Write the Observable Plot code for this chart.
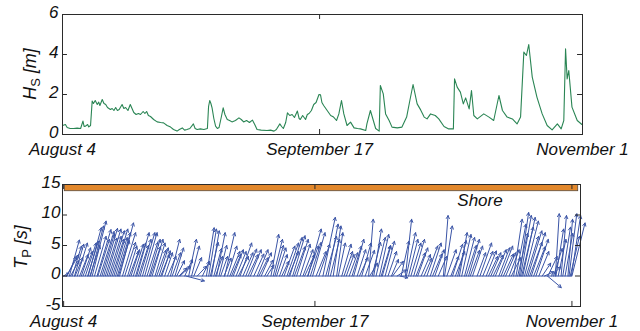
<!DOCTYPE html>
<html>
<head>
<meta charset="utf-8">
<script src="https://cdn.jsdelivr.net/npm/d3@7"></script>
<script src="https://cdn.jsdelivr.net/npm/@observablehq/plot@0.6"></script>
<style>
  body { margin: 0; background: #fff; }
  #chart { position: relative; width: 640px; height: 331px; background: #fff; }
  #hs, #tp { position: absolute; left: 0; }
  #hs { top: 0; }
  #tp { top: 170px; }
</style>
</head>
<body>
<div id="chart"><div id="hs"></div><div id="tp"></div></div>
<script>
// Time axis: days since August 4
const tickDays = [0, 44, 89];
const tickLabels = ["August 4", "September 17", "November 1"];

// Significant wave height H_S [m]
const hsDay = [0, 0.5, 0.8, 1.3, 1.9, 2.5, 3.1, 3.5, 3.7, 3.95, 4.3, 4.5, 4.8, 5.08, 5.3, 5.6, 5.95, 6.2, 6.4, 6.8,
  7.1, 7.4, 7.7, 8.2, 8.5, 8.8, 9.1, 9.4, 9.7, 10.2, 10.5, 10.8, 11.2, 11.6, 11.9, 12.2, 12.6, 13.0, 13.35, 13.8,
  14.1, 14.4, 14.7, 15.06, 15.6, 16.2, 16.8, 17.3, 17.9, 18.5, 19.0, 19.6, 20.0, 20.5, 20.9, 21.3, 21.8, 22.4, 22.7, 23.05,
  23.6, 24.2, 24.8, 25.0, 25.2, 25.4, 25.6, 25.9, 26.2, 26.5, 26.8, 27.2, 27.5, 27.8, 28.2, 28.6, 29.0, 29.6, 30.2, 30.6,
  31.0, 31.5, 32.0, 32.5, 32.9, 33.3, 34.0, 35.0, 35.6, 36.2, 36.6, 37.2, 37.5, 37.8, 38.2, 38.5, 38.9, 39.3, 39.7, 40.2,
  40.5, 40.7, 41.1, 41.6, 41.9, 42.2, 42.6, 43.0, 43.4, 43.9, 44.16, 44.4, 44.7, 45.3, 45.9, 46.4, 46.9, 47.3, 47.75, 48.15,
  48.7, 49.3, 49.9, 50.5, 51.0, 51.9, 52.1, 52.7, 53.2, 53.6, 54.2, 54.4, 54.9, 55.3, 55.9, 56.4, 57.3, 58.1, 58.9, 59.45,
  60.0, 60.7, 61.3, 61.9, 62.4, 63.0, 63.8, 64.4, 65.3, 66.1, 66.9, 67.1, 67.55, 68.1, 68.6, 69.0, 69.6, 70.0, 70.4, 71.0,
  72.1, 73.0, 73.8, 74.7, 75.3, 76.1, 77.0, 77.8, 78.4, 78.96, 79.4, 79.8, 80.4, 81.2, 82.1, 82.95, 83.8, 84.7, 85.35, 85.8,
  86.1, 86.37, 86.65, 87.2, 88.1, 88.9];
const hsValue = [0.45, 0.5, 0.35, 0.3, 0.3, 0.32, 0.3, 0.67, 0.4, 0.42, 0.5, 0.38, 0.45, 1.67, 1.55, 1.7, 1.5, 1.62, 1.45, 1.75,
  1.55, 1.5, 1.35, 1.25, 1.3, 1.2, 1.35, 1.2, 1.25, 1.5, 1.3, 1.35, 1.2, 1.5, 1.3, 1.1, 1.0, 1.05, 1.0, 1.15,
  1.05, 1.15, 0.95, 0.9, 0.75, 0.63, 0.6, 0.58, 0.45, 0.37, 0.25, 0.17, 0.25, 0.33, 0.22, 0.25, 0.3, 0.53, 0.3, 0.25,
  0.28, 0.25, 0.3, 1.4, 1.7, 1.55, 1.33, 0.8, 0.42, 0.3, 0.35, 0.9, 1.33, 1.0, 0.75, 0.7, 0.63, 0.7, 0.83, 0.75,
  0.63, 0.7, 0.6, 0.72, 0.5, 0.25, 0.22, 0.2, 0.22, 0.17, 0.25, 0.53, 0.4, 0.3, 0.6, 1.08, 0.95, 1.0, 0.85, 1.17,
  0.8, 0.75, 0.95, 0.75, 1.0, 1.05, 1.2, 1.5, 1.6, 2.0, 1.98, 1.6, 1.45, 1.2, 0.95, 0.87, 0.7, 1.03, 1.7, 1.03,
  0.45, 0.62, 0.33, 0.3, 0.28, 0.2, 0.53, 1.2, 0.7, 0.3, 0.17, 2.45, 2.03, 1.03, 0.7, 0.37, 0.33, 0.37, 0.87, 1.7,
  2.5, 1.53, 1.23, 0.87, 0.78, 1.03, 0.95, 0.78, 0.4, 0.28, 0.28, 2.78, 2.37, 2.12, 1.53, 1.83, 1.28, 2.2, 0.95, 0.78,
  1.03, 0.87, 0.7, 1.95, 1.2, 0.87, 0.78, 0.53, 0.87, 4.12, 3.95, 4.5, 2.87, 1.87, 1.03, 0.45, 0.23, 0.53, 0.28, 0.7,
  4.28, 2.78, 3.2, 1.37, 0.7, 0.5];

// Peak period vectors: start day, along-shore component (days), cross-shore component T_P [s]
const tpDay = [0.0, 0.5, 0.6, 1.0, 1.5, 1.9, 2.4, 3.1, 3.8, 4.2, 4.3, 4.7, 5.0, 5.85, 6.4, 7.0, 7.6, 8.2, 8.8, 9.4,
  9.8, 10.3, 11.2, 11.8, 12.2, 12.6, 12.8, 13.4, 13.8, 14.2, 15.0, 15.5, 16.0, 16.7, 17.2, 17.7, 18.7, 19.5, 20.2, 20.4,
  21.2, 21.4, 21.9, 22.4, 23.4, 24.3, 25.0, 25.4, 25.9, 26.6, 26.8, 27.5, 28.1, 28.2, 28.7, 29.1, 29.7, 30.2, 30.9, 31.9,
  32.7, 33.9, 34.6, 35.6, 36.3, 36.7, 37.3, 38.2, 38.6, 39.1, 39.6, 40.1, 40.8, 41.9, 42.7, 42.8, 43.6, 44.7, 45.4, 46.3,
  47.2, 47.8, 48.1, 48.7, 49.5, 50.0, 50.5, 50.8, 51.4, 52.2, 53.4, 53.6, 54.3, 54.7, 55.3, 55.8, 56.3, 57.4, 57.6, 58.4,
  58.9, 59.1, 59.85, 60.0, 60.8, 61.3, 62.0, 63.1, 63.6, 64.2, 65.0, 66.5, 66.7, 67.1, 67.8, 68.1, 69.3, 69.7, 70.2, 70.9,
  71.6, 72.4, 72.9, 74.0, 74.8, 75.6, 76.2, 76.6, 77.4, 78.0, 78.8, 79.2, 79.8, 80.0, 80.4, 80.7, 81.3, 81.9, 82.7, 83.8,
  84.2, 84.7, 84.8, 86.1, 86.2, 87.1, 87.4, 88.3, 88.5, 88.9, 89.0,
  1.2, 2.0, 2.8, 3.4, 4.6, 5.4, 6.0, 6.7, 7.3, 7.9, 8.5, 9.1, 9.6, 10.7, 11.5, 13.1, 14.6, 15.2, 16.3, 17.0,
  18.2, 19.0, 19.8, 22.8, 25.7, 26.3, 27.2, 29.4, 30.6, 31.4, 32.3, 33.3, 34.2, 35.2, 37.0, 37.8, 39.4, 40.4, 41.4, 42.2,
  43.2, 44.2, 45.9, 46.7, 49.1, 51.8, 52.8, 54.0, 55.6, 56.8, 60.4, 61.7, 62.6, 64.6, 65.6, 68.6, 69.0, 70.5, 71.2, 73.4,
  74.4, 75.2, 77.0, 78.4, 79.5, 80.2, 81.0, 81.6, 82.3, 83.2, 85.4, 85.8, 86.6, 87.8, 88.7];
const tpU = [0.6, 1.6, 1.2, 1.3, 1.2, 1.2, 1.3, 1.2, 1.4, 1.4, 1.7, 1.7, 1.8, 1.8, 1.8, 1.8, 1.8, 1.8, 1.8, 1.7,
  1.8, 1.7, 1.2, 1.1, 1.3, 1.3, 1.6, 1.4, 1.6, 1.6, 1.4, 1.4, 1.3, 1.2, 1.1, 1.0, 1.2, 1.1, 1.0, 1.3,
  1.0, 2.4, 1.0, 1.0, 1.2, 0.9, 1.0, 1.0, 1.0, 0.9, 1.1, 0.9, 0.9, 1.3, 1.2, 1.3, 1.3, 1.3, 1.5, 1.4,
  1.4, 1.4, 1.3, 0.9, 1.0, 1.2, 1.2, 0.9, 1.4, 1.5, 1.6, 1.6, 1.5, 1.3, 1.4, 1.7, 1.6, 1.4, 1.6, 1.3,
  1.0, 0.8, 0.9, 1.2, 1.0, 1.1, 1.2, 1.3, 1.1, 1.2, 0.6, 1.0, 1.0, 1.2, 1.2, 1.1, 1.2, 0.9, 1.4, 1.2,
  1.0, 1.0, 0.8, 1.2, 1.3, 1.4, 1.3, 1.0, 1.4, 1.4, 1.2, 0.6, 1.0, 1.2, 1.0, 1.3, 1.0, 1.2, 1.3, 1.4,
  1.3, 1.1, 1.5, 1.3, 1.3, 1.4, 1.4, 1.5, 1.3, 1.3, 1.1, 1.3, 1.2, 1.4, 1.6, 1.8, 1.8, 1.8, 1.6, 1.1,
  1.2, 1.8, 1.2, 0.5, 1.0, 0.7, 1.0, 0.6, 1.0, 1.2, 1.7,
  1.1, 1.0, 1.1, 1.2, 1.3, 1.5, 1.5, 1.6, 1.5, 1.6, 1.5, 1.5, 1.4, 1.4, 1.2, 1.3, 1.4, 1.3, 1.2, 1.1,
  1.1, 1.1, 1.0, 1.0, 1.0, 1.0, 1.0, 1.2, 1.3, 1.3, 1.3, 1.3, 1.2, 1.1, 1.1, 1.0, 1.3, 1.4, 1.3, 1.3,
  1.4, 1.3, 1.4, 1.2, 1.1, 1.1, 1.2, 1.1, 1.2, 1.1, 1.2, 1.2, 1.2, 1.2, 1.1, 1.2, 1.1, 1.3, 1.2, 1.3,
  1.2, 1.3, 1.3, 1.2, 1.3, 1.5, 1.6, 1.6, 1.5, 1.3, 1.2, 1.1, 1.0, 1.0, 1.2];
const tpV = [0.5, 3.5, 3.2, 5.9, 4.9, 5.2, 5.4, 4.6, 5.4, 5.7, 7.9, 8.2, 9.0, 7.6, 7.3, 7.8, 7.7, 7.4, 7.7, 7.1,
  8.7, 7.1, 4.9, 4.3, 5.2, 5.4, 7.1, 6.0, 7.1, 7.1, 6.0, 6.0, 5.4, 4.6, 4.1, 3.8, 6.0, 4.6, 1.3, 1.6,
  2.7, -0.8, 6.0, 4.9, 1.6, 2.4, 7.9, 7.7, 7.4, 3.2, 7.1, 3.2, 2.9, 7.1, 4.9, 4.0, 4.3, 4.0, 5.4, 4.4,
  4.3, 4.3, 3.8, 1.8, 6.8, 6.0, 4.6, 2.4, 4.9, 5.4, 6.3, 6.6, 6.0, 4.3, 4.9, 7.7, 7.1, 5.2, 9.6, 8.5,
  8.2, 7.1, 5.4, 5.2, 3.5, 3.8, 4.9, 6.0, 4.3, 5.4, 9.3, 2.1, 7.7, 6.3, 6.8, 4.9, 5.7, 2.7, 2.4, 1.0,
  -0.3, 5.7, 9.3, 7.1, 5.4, 6.0, 4.6, 2.9, 4.9, 5.4, 4.3, 9.9, 8.2, 4.3, 3.2, 5.2, 7.1, 6.8, 6.3, 6.0,
  4.9, 3.8, 5.4, 4.1, 3.8, 4.3, 4.6, 4.9, 3.8, 4.3, 9.3, 8.5, 10.4, 9.9, 9.6, 9.0, 7.4, 7.1, 6.0, 2.1,
  0.7, -1.9, 3.2, 10.2, 7.7, 9.9, 8.0, 9.3, 10.2, 9.9, 8.7,
  2.5, 3.0, 3.5, 4.0, 5.0, 6.5, 6.0, 6.8, 6.2, 6.5, 6.0, 6.3, 5.8, 5.5, 4.0, 5.0, 5.5, 4.8, 4.2, 3.5,
  3.2, 3.8, 2.5, 3.0, 5.5, 4.5, 5.0, 3.5, 3.2, 3.8, 3.5, 3.6, 3.0, 2.6, 5.0, 3.5, 4.0, 4.8, 5.2, 3.5,
  5.5, 4.0, 6.5, 6.0, 4.0, 3.0, 4.2, 5.5, 5.0, 4.0, 6.0, 3.8, 3.5, 3.6, 3.2, 4.0, 5.8, 5.0, 4.2, 4.0,
  3.2, 3.4, 3.6, 3.0, 7.0, 8.0, 6.5, 5.5, 4.8, 4.0, 1.5, 4.5, 6.0, 7.0, 6.5];

// Quiver length factor along the time axis
const arrowScale = 1.35;

// Shoreline band and its label
const shoreBar = {start: 0.2, end: 90.1, low: 13.9, high: 14.9};
const shoreLabel = {text: "Shore", day: 72.9, tp: 12.4};

const hsTicks = [0, 2, 4, 6];
const tpTicks = [-5, 0, 5, 10, 15];

const font = "'Liberation Sans', Arial, Helvetica, sans-serif";
const ink = "#2b2b2b";
const green = "#2a8554";
const blue = "#3a54a6";

const hsPoints = hsDay.map((d, i) => ({day: d, hs: hsValue[i]}));
const tpVectors = tpDay.map((d, i) => ({day: d, u: tpU[i], v: tpV[i]}));

const baseStyle = {fontFamily: font, fontSize: "17px", fontStyle: "italic", color: "#111", background: "#fff", overflow: "visible"};

// Upper panel: H_S time series
const hsPlot = Plot.plot({
  width: 640, height: 160,
  marginLeft: 62, marginRight: 58, marginTop: 14, marginBottom: 26,
  style: baseStyle,
  x: {domain: [0, 89]},
  y: {domain: [0, 6]},
  marks: [
    Plot.line(hsPoints, {x: "day", y: "hs", stroke: green, strokeWidth: 1.1}),
    // inward ticks on all four sides
    Plot.ruleY(hsTicks, {x1: 0, x2: 0.85, stroke: ink}),
    Plot.ruleY(hsTicks, {x1: 88.15, x2: 89, stroke: ink}),
    Plot.ruleX(tickDays, {y1: 0, y2: 0.25, stroke: ink}),
    Plot.ruleX(tickDays, {y1: 5.75, y2: 6, stroke: ink}),
    Plot.frame({stroke: ink}),
    Plot.axisX({ticks: tickDays, tickFormat: d => tickLabels[tickDays.indexOf(d)], tickSize: 0, tickPadding: 8, label: null, fontSize: 17}),
    Plot.axisY({ticks: hsTicks, tickFormat: d => String(d), tickSize: 0, tickPadding: 4, dy: -2, label: null, fontSize: 17})
  ]
});

// Lower panel: T_P vectors relative to the shore
const tpPlot = Plot.plot({
  width: 640, height: 161,
  marginLeft: 62, marginRight: 60, marginTop: 14, marginBottom: 25,
  style: baseStyle,
  x: {domain: [-0.2, 90.5]},
  y: {domain: [-5, 15]},
  marks: [
    Plot.rect([shoreBar], {x1: "start", x2: "end", y1: "low", y2: "high", fill: "#e2882c", stroke: "#5a4a3a", strokeWidth: 0.8}),
    Plot.text([shoreLabel], {x: "day", y: "tp", text: "text", fontSize: 17, fontStyle: "italic", fill: "#111"}),
    Plot.ruleY([0], {x1: tpDay[0], x2: tickDays[2], stroke: blue, strokeWidth: 1}),
    Plot.arrow(tpVectors, {x1: "day", y1: 0, x2: d => d.day + arrowScale * d.u, y2: "v", stroke: blue, strokeWidth: 1, headLength: 5, headAngle: 55}),
    Plot.ruleY(tpTicks, {x1: -0.2, x2: 0.68, stroke: ink}),
    Plot.ruleY(tpTicks, {x1: 89.62, x2: 90.5, stroke: ink}),
    Plot.ruleX(tickDays, {y1: -5, y2: -4.17, stroke: ink}),
    Plot.ruleX(tickDays, {y1: 14.17, y2: 15, stroke: ink}),
    Plot.frame({stroke: ink}),
    Plot.axisX({ticks: tickDays, tickFormat: d => tickLabels[tickDays.indexOf(d)], tickSize: 0, tickPadding: 8, label: null, fontSize: 17}),
    Plot.axisY({ticks: tpTicks, tickFormat: d => String(d), tickSize: 0, tickPadding: 2, dy: -2, label: null, fontSize: 17})
  ]
});

document.getElementById("hs").appendChild(hsPlot);
document.getElementById("tp").appendChild(tpPlot);

// Rotated y-axis titles with subscripts
function yTitle(svg, cx, cy, main, sub, unit) {
  const t = d3.select(svg).append("text")
    .attr("transform", `translate(${cx},${cy}) rotate(-90)`)
    .attr("text-anchor", "middle")
    .attr("font-family", font)
    .attr("font-size", 18)
    .attr("font-style", "italic")
    .attr("fill", "#111");
  t.append("tspan").text(main);
  t.append("tspan").attr("dy", 4).attr("font-size", 13).attr("font-style", "normal").text(sub);
  t.append("tspan").attr("dy", -4).text(" " + unit);
}
yTitle(hsPlot, 36, 74, "H", "S", "[m]");
yTitle(tpPlot, 27, 77, "T", "P", "[s]");
</script>
</body>
</html>
